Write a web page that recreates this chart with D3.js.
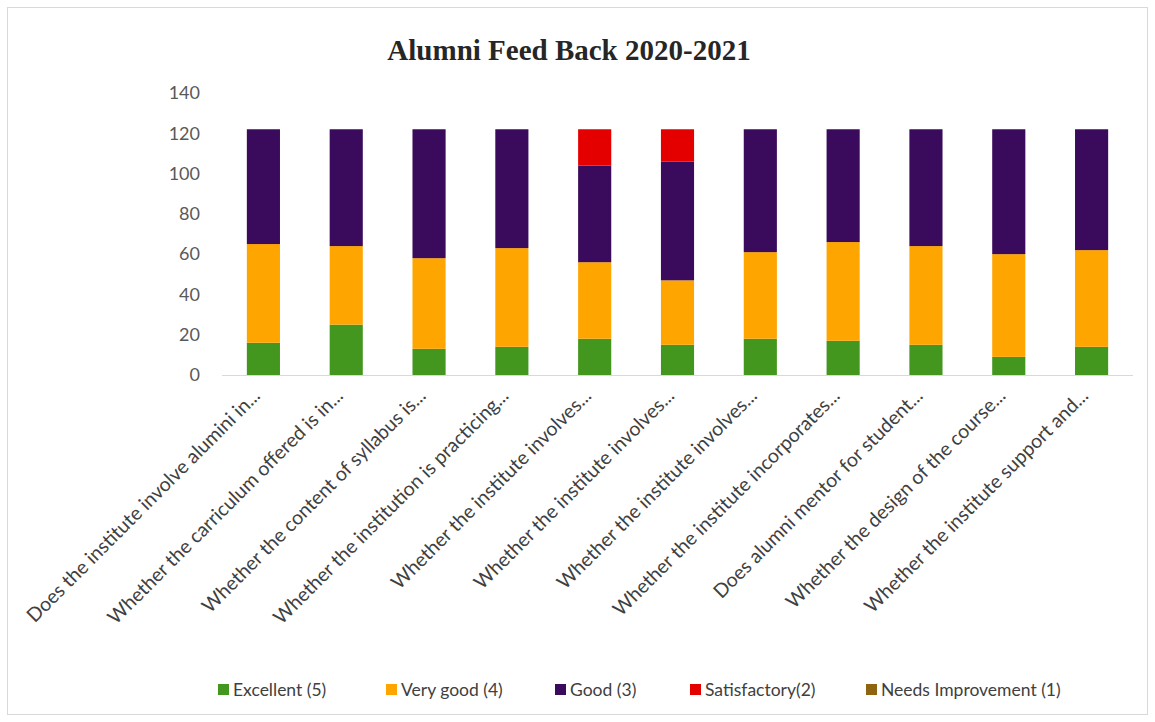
<!DOCTYPE html>
<html>
<head>
<meta charset="utf-8">
<script src="https://cdn.jsdelivr.net/npm/d3@7"></script>
<style>
  body { margin: 0; background: #fff; }
  svg { display: block; }
</style>
</head>
<body>
<script>
// questions (truncated as in the sheet)
var questions = [
  "Does the institute involve alumini in...",
  "Whether the carriculum offered is in...",
  "Whether the content of syllabus is...",
  "Whether the institution is practicing...",
  "Whether the institute involves...",
  "Whether the institute involves...",
  "Whether the institute involves...",
  "Whether the institute incorporates...",
  "Does alumni mentor for student...",
  "Whether the design of the course...",
  "Whether the institute support and..."
];

var ratings = ["Excellent (5)", "Very good (4)", "Good (3)", "Satisfactory(2)", "Needs Improvement (1)"];

var excellent   = [16, 25, 13, 14, 18, 15, 18, 17, 15, 9, 14];
var veryGood    = [49, 39, 45, 49, 38, 32, 43, 49, 49, 51, 48];
var good        = [57, 58, 64, 59, 48, 59, 61, 56, 58, 62, 60];
var satisfactory = [0, 0, 0, 0, 18, 16, 0, 0, 0, 0, 0];
var needsImprovement = [0, 0, 0, 0, 0, 0, 0, 0, 0, 0, 0];

var yTicks = [0, 20, 40, 60, 80, 100, 120, 140];

var colors = ["#43971f", "#ffa500", "#3a0a5c", "#e50000", "#8f6410"];

var W = 1155, H = 722;
var margin = {left: 222, right: 22, top: 93, bottom: 347};
var svg = d3.select("body").append("svg").attr("width", W).attr("height", H);

// outer frame
svg.append("rect").attr("x", 7.5).attr("y", 7.5).attr("width", W - 15).attr("height", H - 15)
  .attr("fill", "none").attr("stroke", "#d9d9d9");

svg.append("text").attr("x", 569).attr("y", 60).attr("text-anchor", "middle")
  .style("font-family", "'Liberation Serif', 'Times New Roman', serif")
  .style("font-weight", "bold").style("font-size", "29px").attr("fill", "#262626")
  .text("Alumni Feed Back 2020-2021");

var x = d3.scaleBand().domain(d3.range(questions.length))
  .range([margin.left, W - margin.right]).paddingInner(0.6).paddingOuter(0.3);
var y = d3.scaleLinear().domain([0, 140]).range([375, 93]);

var table = questions.map(function (q, i) {
  return {i: i, e: excellent[i], v: veryGood[i], g: good[i], s: satisfactory[i], n: needsImprovement[i]};
});
var stack = d3.stack().keys(["e", "v", "g", "s", "n"])(table);

var font = "Lato, 'Open Sans', sans-serif";

// y axis labels
var yAxis = svg.append("g").attr("transform", "translate(" + (margin.left - 22) + ",0)")
  .call(d3.axisLeft(y).tickValues(yTicks).tickSize(0).tickPadding(0));
yAxis.select(".domain").remove();
yAxis.selectAll("text").style("font-family", font).style("font-size", "18px").attr("fill", "#595959");

svg.append("g").selectAll("g").data(stack).enter().append("g")
  .attr("fill", function (d, k) { return colors[k]; })
  .selectAll("rect").data(function (d) { return d; }).enter().append("rect")
  .attr("x", function (d) { return x(d.data.i); })
  .attr("width", x.bandwidth())
  .attr("y", function (d) { return y(d[1]); })
  .attr("height", function (d) { return y(d[0]) - y(d[1]); });

// x axis
var xAxis = svg.append("g").attr("transform", "translate(0,375)")
  .call(d3.axisBottom(x).tickSize(0).tickFormat(function (i) { return questions[i]; }));
xAxis.select(".domain").attr("stroke", "#d9d9d9").attr("d", "M" + margin.left + ",0.5H" + (W - margin.right));
xAxis.selectAll("text")
  .style("font-family", font).style("font-size", "19.5px").attr("fill", "#404040")
  .attr("text-anchor", "end").attr("dy", "0.35em")
  .attr("transform", "translate(-9,15) rotate(-45)");

// legend
var legendX = [218, 386, 555, 690, 866];
var lg = svg.append("g").selectAll("g").data(ratings).enter().append("g")
  .attr("transform", function (d, k) { return "translate(" + legendX[k] + ",690)"; });
lg.append("rect").attr("x", 0).attr("y", -6).attr("width", 11).attr("height", 11)
  .attr("fill", function (d, k) { return colors[k]; });
lg.append("text").attr("x", 15).attr("dy", "0.35em")
  .style("font-family", font).style("font-size", "17.5px").attr("fill", "#404040")
  .text(function (d) { return d; });
</script>
</body>
</html>
